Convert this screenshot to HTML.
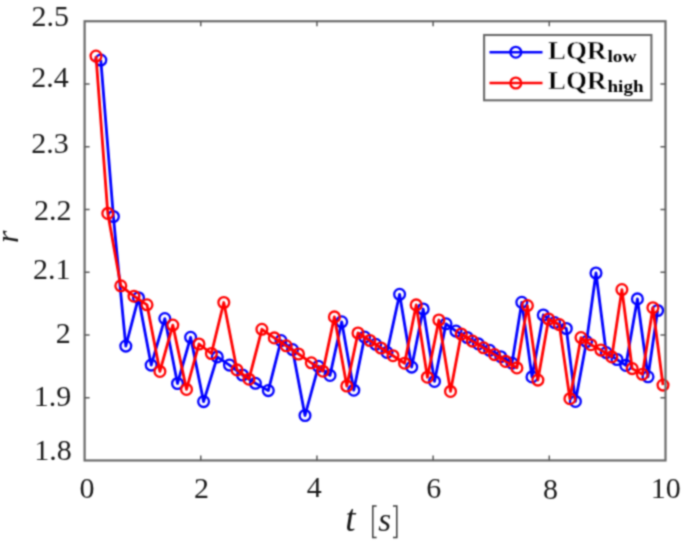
<!DOCTYPE html>
<html><head><meta charset="utf-8"><style>
html,body{margin:0;padding:0;background:#fff;}
body{width:685px;height:542px;overflow:hidden;}
svg{display:block;}
#w{width:685px;height:542px;}
.tl{font-family:"Liberation Serif",serif;font-size:30px;fill:#1a1a1a;}
.ax{font-family:"Liberation Serif",serif;font-style:italic;fill:#1a1a1a;}
.rm{font-family:"Liberation Serif",serif;fill:#1a1a1a;}
.lg{font-family:"Liberation Serif",serif;font-weight:bold;fill:#000;}
.lgc{stroke:#fff;stroke-width:0.5px;}
</style></head><body><div id="w">
<svg width="685" height="542" viewBox="0 0 685 542">
<defs><filter id="bl" filterUnits="userSpaceOnUse" x="0" y="0" width="685" height="542" color-interpolation-filters="sRGB"><feConvolveMatrix order="5" kernelMatrix="0.00023 0.00332 0.00809 0.00332 0.00023 0.00332 0.04785 0.11640 0.04785 0.00332 0.00809 0.11640 0.28313 0.11640 0.00809 0.00332 0.04785 0.11640 0.04785 0.00332 0.00023 0.00332 0.00809 0.00332 0.00023" edgeMode="duplicate" preserveAlpha="true"/></filter></defs>
<g filter="url(#bl)">
<rect x="0" y="0" width="685" height="542" fill="#fff"/>
<g class="tl">
<text x="71.80" y="460.1" text-anchor="end">1.8</text>
<text x="71.30" y="406.0" text-anchor="end">1.9</text>
<text x="70.75" y="343.2" text-anchor="end">2</text>
<text x="70.50" y="279.3" text-anchor="end">2.1</text>
<text x="71.60" y="220.0" text-anchor="end">2.2</text>
<text x="68.80" y="152.8" text-anchor="end">2.3</text>
<text x="68.70" y="87.2" text-anchor="end">2.4</text>
<text x="69.00" y="26.2" text-anchor="end">2.5</text>
<text x="87" y="497.7" text-anchor="middle">0</text>
<text x="201.4" y="497.7" text-anchor="middle">2</text>
<text x="314.3" y="497.3" text-anchor="middle">4</text>
<text x="433.7" y="497.7" text-anchor="middle">6</text>
<text x="550.4" y="499.0" text-anchor="middle">8</text>
<text x="665.7" y="497.6" text-anchor="middle">10</text>
</g>
<g>
<path d="M100.8,60.1 L113.4,216.5 L125.8,346.1 L138.5,297.7 L151.2,365.1 L164.8,318.6 L177.5,383.5 L190.6,337.3 L203.6,401.6 L217.3,356.9 L229.5,365.1 L242.5,375.0 L255.4,383.3 L268.3,390.6 L281.0,340.6 L292.5,349.6 L305.0,415.5 L318.4,366.3 L330.0,375.4 L341.7,321.8 L353.8,390.2 L364.6,337.1 L375.7,344.3 L387.0,352.4 L399.6,294.3 L411.7,367.1 L423.2,309.0 L434.5,381.4 L446.0,323.8 L456.0,331.1 L467.2,337.5 L478.4,343.9 L489.6,350.3 L500.8,356.7 L512.0,363.1 L521.8,302.3 L532.0,376.9 L543.3,315.0 L554.6,322.6 L566.3,328.5 L575.4,401.4 L586.5,341.6 L596.0,273.0 L606.2,352.6 L617.0,359.5 L625.8,365.4 L637.4,298.9 L648.0,376.8 L657.6,310.5" fill="none" stroke="#0000ff" stroke-width="2.8" stroke-linejoin="round"/>
<circle cx="100.8" cy="60.1" r="5.4" fill="none" stroke="#0000ff" stroke-width="2.3"/>
<circle cx="113.4" cy="216.5" r="5.4" fill="none" stroke="#0000ff" stroke-width="2.3"/>
<circle cx="125.8" cy="346.1" r="5.4" fill="none" stroke="#0000ff" stroke-width="2.3"/>
<circle cx="138.5" cy="297.7" r="5.4" fill="none" stroke="#0000ff" stroke-width="2.3"/>
<circle cx="151.2" cy="365.1" r="5.4" fill="none" stroke="#0000ff" stroke-width="2.3"/>
<circle cx="164.8" cy="318.6" r="5.4" fill="none" stroke="#0000ff" stroke-width="2.3"/>
<circle cx="177.5" cy="383.5" r="5.4" fill="none" stroke="#0000ff" stroke-width="2.3"/>
<circle cx="190.6" cy="337.3" r="5.4" fill="none" stroke="#0000ff" stroke-width="2.3"/>
<circle cx="203.6" cy="401.6" r="5.4" fill="none" stroke="#0000ff" stroke-width="2.3"/>
<circle cx="217.3" cy="356.9" r="5.4" fill="none" stroke="#0000ff" stroke-width="2.3"/>
<circle cx="229.5" cy="365.1" r="5.4" fill="none" stroke="#0000ff" stroke-width="2.3"/>
<circle cx="242.5" cy="375.0" r="5.4" fill="none" stroke="#0000ff" stroke-width="2.3"/>
<circle cx="255.4" cy="383.3" r="5.4" fill="none" stroke="#0000ff" stroke-width="2.3"/>
<circle cx="268.3" cy="390.6" r="5.4" fill="none" stroke="#0000ff" stroke-width="2.3"/>
<circle cx="281.0" cy="340.6" r="5.4" fill="none" stroke="#0000ff" stroke-width="2.3"/>
<circle cx="292.5" cy="349.6" r="5.4" fill="none" stroke="#0000ff" stroke-width="2.3"/>
<circle cx="305.0" cy="415.5" r="5.4" fill="none" stroke="#0000ff" stroke-width="2.3"/>
<circle cx="318.4" cy="366.3" r="5.4" fill="none" stroke="#0000ff" stroke-width="2.3"/>
<circle cx="330.0" cy="375.4" r="5.4" fill="none" stroke="#0000ff" stroke-width="2.3"/>
<circle cx="341.7" cy="321.8" r="5.4" fill="none" stroke="#0000ff" stroke-width="2.3"/>
<circle cx="353.8" cy="390.2" r="5.4" fill="none" stroke="#0000ff" stroke-width="2.3"/>
<circle cx="364.6" cy="337.1" r="5.4" fill="none" stroke="#0000ff" stroke-width="2.3"/>
<circle cx="375.7" cy="344.3" r="5.4" fill="none" stroke="#0000ff" stroke-width="2.3"/>
<circle cx="387.0" cy="352.4" r="5.4" fill="none" stroke="#0000ff" stroke-width="2.3"/>
<circle cx="399.6" cy="294.3" r="5.4" fill="none" stroke="#0000ff" stroke-width="2.3"/>
<circle cx="411.7" cy="367.1" r="5.4" fill="none" stroke="#0000ff" stroke-width="2.3"/>
<circle cx="423.2" cy="309.0" r="5.4" fill="none" stroke="#0000ff" stroke-width="2.3"/>
<circle cx="434.5" cy="381.4" r="5.4" fill="none" stroke="#0000ff" stroke-width="2.3"/>
<circle cx="446.0" cy="323.8" r="5.4" fill="none" stroke="#0000ff" stroke-width="2.3"/>
<circle cx="456.0" cy="331.1" r="5.4" fill="none" stroke="#0000ff" stroke-width="2.3"/>
<circle cx="467.2" cy="337.5" r="5.4" fill="none" stroke="#0000ff" stroke-width="2.3"/>
<circle cx="478.4" cy="343.9" r="5.4" fill="none" stroke="#0000ff" stroke-width="2.3"/>
<circle cx="489.6" cy="350.3" r="5.4" fill="none" stroke="#0000ff" stroke-width="2.3"/>
<circle cx="500.8" cy="356.7" r="5.4" fill="none" stroke="#0000ff" stroke-width="2.3"/>
<circle cx="512.0" cy="363.1" r="5.4" fill="none" stroke="#0000ff" stroke-width="2.3"/>
<circle cx="521.8" cy="302.3" r="5.4" fill="none" stroke="#0000ff" stroke-width="2.3"/>
<circle cx="532.0" cy="376.9" r="5.4" fill="none" stroke="#0000ff" stroke-width="2.3"/>
<circle cx="543.3" cy="315.0" r="5.4" fill="none" stroke="#0000ff" stroke-width="2.3"/>
<circle cx="554.6" cy="322.6" r="5.4" fill="none" stroke="#0000ff" stroke-width="2.3"/>
<circle cx="566.3" cy="328.5" r="5.4" fill="none" stroke="#0000ff" stroke-width="2.3"/>
<circle cx="575.4" cy="401.4" r="5.4" fill="none" stroke="#0000ff" stroke-width="2.3"/>
<circle cx="586.5" cy="341.6" r="5.4" fill="none" stroke="#0000ff" stroke-width="2.3"/>
<circle cx="596.0" cy="273.0" r="5.4" fill="none" stroke="#0000ff" stroke-width="2.3"/>
<circle cx="606.2" cy="352.6" r="5.4" fill="none" stroke="#0000ff" stroke-width="2.3"/>
<circle cx="617.0" cy="359.5" r="5.4" fill="none" stroke="#0000ff" stroke-width="2.3"/>
<circle cx="625.8" cy="365.4" r="5.4" fill="none" stroke="#0000ff" stroke-width="2.3"/>
<circle cx="637.4" cy="298.9" r="5.4" fill="none" stroke="#0000ff" stroke-width="2.3"/>
<circle cx="648.0" cy="376.8" r="5.4" fill="none" stroke="#0000ff" stroke-width="2.3"/>
<circle cx="657.6" cy="310.5" r="5.4" fill="none" stroke="#0000ff" stroke-width="2.3"/>

<path d="M96.0,56.1 L107.8,213.4 L120.8,285.8 L134.0,296.2 L147.0,304.8 L159.9,371.4 L172.8,325.1 L186.5,389.4 L199.0,344.0 L211.4,353.5 L223.8,302.5 L237.0,369.9 L249.0,379.2 L261.9,329.3 L274.3,337.9 L286.2,345.8 L298.5,354.0 L311.3,362.8 L322.9,371.2 L334.4,316.9 L346.8,386.0 L358.0,333.0 L369.9,340.5 L381.0,348.0 L393.0,355.7 L404.6,363.2 L416.2,304.9 L427.4,377.2 L438.9,320.0 L450.5,391.4 L461.3,334.0 L472.4,341.1 L483.5,347.8 L494.5,354.6 L505.6,361.4 L516.9,367.9 L527.4,305.6 L537.9,380.1 L548.6,319.0 L559.3,324.6 L569.9,398.7 L581.0,337.6 L590.9,344.7 L600.9,350.1 L611.8,356.9 L621.9,289.6 L632.2,368.6 L642.4,374.3 L652.9,307.7 L663.0,385.1" fill="none" stroke="#ff0000" stroke-width="2.8" stroke-linejoin="round"/>
<circle cx="96.0" cy="56.1" r="5.4" fill="none" stroke="#ff0000" stroke-width="2.3"/>
<circle cx="107.8" cy="213.4" r="5.4" fill="none" stroke="#ff0000" stroke-width="2.3"/>
<circle cx="120.8" cy="285.8" r="5.4" fill="none" stroke="#ff0000" stroke-width="2.3"/>
<circle cx="134.0" cy="296.2" r="5.4" fill="none" stroke="#ff0000" stroke-width="2.3"/>
<circle cx="147.0" cy="304.8" r="5.4" fill="none" stroke="#ff0000" stroke-width="2.3"/>
<circle cx="159.9" cy="371.4" r="5.4" fill="none" stroke="#ff0000" stroke-width="2.3"/>
<circle cx="172.8" cy="325.1" r="5.4" fill="none" stroke="#ff0000" stroke-width="2.3"/>
<circle cx="186.5" cy="389.4" r="5.4" fill="none" stroke="#ff0000" stroke-width="2.3"/>
<circle cx="199.0" cy="344.0" r="5.4" fill="none" stroke="#ff0000" stroke-width="2.3"/>
<circle cx="211.4" cy="353.5" r="5.4" fill="none" stroke="#ff0000" stroke-width="2.3"/>
<circle cx="223.8" cy="302.5" r="5.4" fill="none" stroke="#ff0000" stroke-width="2.3"/>
<circle cx="237.0" cy="369.9" r="5.4" fill="none" stroke="#ff0000" stroke-width="2.3"/>
<circle cx="249.0" cy="379.2" r="5.4" fill="none" stroke="#ff0000" stroke-width="2.3"/>
<circle cx="261.9" cy="329.3" r="5.4" fill="none" stroke="#ff0000" stroke-width="2.3"/>
<circle cx="274.3" cy="337.9" r="5.4" fill="none" stroke="#ff0000" stroke-width="2.3"/>
<circle cx="286.2" cy="345.8" r="5.4" fill="none" stroke="#ff0000" stroke-width="2.3"/>
<circle cx="298.5" cy="354.0" r="5.4" fill="none" stroke="#ff0000" stroke-width="2.3"/>
<circle cx="311.3" cy="362.8" r="5.4" fill="none" stroke="#ff0000" stroke-width="2.3"/>
<circle cx="322.9" cy="371.2" r="5.4" fill="none" stroke="#ff0000" stroke-width="2.3"/>
<circle cx="334.4" cy="316.9" r="5.4" fill="none" stroke="#ff0000" stroke-width="2.3"/>
<circle cx="346.8" cy="386.0" r="5.4" fill="none" stroke="#ff0000" stroke-width="2.3"/>
<circle cx="358.0" cy="333.0" r="5.4" fill="none" stroke="#ff0000" stroke-width="2.3"/>
<circle cx="369.9" cy="340.5" r="5.4" fill="none" stroke="#ff0000" stroke-width="2.3"/>
<circle cx="381.0" cy="348.0" r="5.4" fill="none" stroke="#ff0000" stroke-width="2.3"/>
<circle cx="393.0" cy="355.7" r="5.4" fill="none" stroke="#ff0000" stroke-width="2.3"/>
<circle cx="404.6" cy="363.2" r="5.4" fill="none" stroke="#ff0000" stroke-width="2.3"/>
<circle cx="416.2" cy="304.9" r="5.4" fill="none" stroke="#ff0000" stroke-width="2.3"/>
<circle cx="427.4" cy="377.2" r="5.4" fill="none" stroke="#ff0000" stroke-width="2.3"/>
<circle cx="438.9" cy="320.0" r="5.4" fill="none" stroke="#ff0000" stroke-width="2.3"/>
<circle cx="450.5" cy="391.4" r="5.4" fill="none" stroke="#ff0000" stroke-width="2.3"/>
<circle cx="461.3" cy="334.0" r="5.4" fill="none" stroke="#ff0000" stroke-width="2.3"/>
<circle cx="472.4" cy="341.1" r="5.4" fill="none" stroke="#ff0000" stroke-width="2.3"/>
<circle cx="483.5" cy="347.8" r="5.4" fill="none" stroke="#ff0000" stroke-width="2.3"/>
<circle cx="494.5" cy="354.6" r="5.4" fill="none" stroke="#ff0000" stroke-width="2.3"/>
<circle cx="505.6" cy="361.4" r="5.4" fill="none" stroke="#ff0000" stroke-width="2.3"/>
<circle cx="516.9" cy="367.9" r="5.4" fill="none" stroke="#ff0000" stroke-width="2.3"/>
<circle cx="527.4" cy="305.6" r="5.4" fill="none" stroke="#ff0000" stroke-width="2.3"/>
<circle cx="537.9" cy="380.1" r="5.4" fill="none" stroke="#ff0000" stroke-width="2.3"/>
<circle cx="548.6" cy="319.0" r="5.4" fill="none" stroke="#ff0000" stroke-width="2.3"/>
<circle cx="559.3" cy="324.6" r="5.4" fill="none" stroke="#ff0000" stroke-width="2.3"/>
<circle cx="569.9" cy="398.7" r="5.4" fill="none" stroke="#ff0000" stroke-width="2.3"/>
<circle cx="581.0" cy="337.6" r="5.4" fill="none" stroke="#ff0000" stroke-width="2.3"/>
<circle cx="590.9" cy="344.7" r="5.4" fill="none" stroke="#ff0000" stroke-width="2.3"/>
<circle cx="600.9" cy="350.1" r="5.4" fill="none" stroke="#ff0000" stroke-width="2.3"/>
<circle cx="611.8" cy="356.9" r="5.4" fill="none" stroke="#ff0000" stroke-width="2.3"/>
<circle cx="621.9" cy="289.6" r="5.4" fill="none" stroke="#ff0000" stroke-width="2.3"/>
<circle cx="632.2" cy="368.6" r="5.4" fill="none" stroke="#ff0000" stroke-width="2.3"/>
<circle cx="642.4" cy="374.3" r="5.4" fill="none" stroke="#ff0000" stroke-width="2.3"/>
<circle cx="652.9" cy="307.7" r="5.4" fill="none" stroke="#ff0000" stroke-width="2.3"/>
<circle cx="663.0" cy="385.1" r="5.4" fill="none" stroke="#ff0000" stroke-width="2.3"/>

</g>
<g stroke="#6a6a6a" stroke-width="2.2" fill="none">
<rect x="84.6" y="21.25" width="580.9" height="439.2"/>
</g>
<g stroke="#585858" stroke-width="1.5">
<line x1="84.6" y1="397.75" x2="89.6" y2="397.75"/>
<line x1="665.45" y1="397.75" x2="660.45" y2="397.75"/>
<line x1="84.6" y1="335.00" x2="89.6" y2="335.00"/>
<line x1="665.45" y1="335.00" x2="660.45" y2="335.00"/>
<line x1="84.6" y1="272.25" x2="89.6" y2="272.25"/>
<line x1="665.45" y1="272.25" x2="660.45" y2="272.25"/>
<line x1="84.6" y1="209.50" x2="89.6" y2="209.50"/>
<line x1="665.45" y1="209.50" x2="660.45" y2="209.50"/>
<line x1="84.6" y1="146.75" x2="89.6" y2="146.75"/>
<line x1="665.45" y1="146.75" x2="660.45" y2="146.75"/>
<line x1="84.6" y1="84.00" x2="89.6" y2="84.00"/>
<line x1="665.45" y1="84.00" x2="660.45" y2="84.00"/>
<line x1="200.77" y1="460.5" x2="200.77" y2="455.5"/>
<line x1="200.77" y1="21.25" x2="200.77" y2="26.25"/>
<line x1="316.94" y1="460.5" x2="316.94" y2="455.5"/>
<line x1="316.94" y1="21.25" x2="316.94" y2="26.25"/>
<line x1="433.11" y1="460.5" x2="433.11" y2="455.5"/>
<line x1="433.11" y1="21.25" x2="433.11" y2="26.25"/>
<line x1="549.28" y1="460.5" x2="549.28" y2="455.5"/>
<line x1="549.28" y1="21.25" x2="549.28" y2="26.25"/>
</g>
<!-- legend -->
<rect x="484.1" y="35.0" width="167.3" height="65.3" fill="#fff" stroke="#6a6a6a" stroke-width="2.1"/>
<line x1="489.5" y1="52.2" x2="542.5" y2="52.2" stroke="#0000ff" stroke-width="2.6"/>
<circle cx="515.8" cy="52.2" r="5.4" fill="none" stroke="#0000ff" stroke-width="2.3"/>
<line x1="489.5" y1="83" x2="542.5" y2="83" stroke="#ff0000" stroke-width="2.6"/>
<circle cx="515.8" cy="83" r="5.4" fill="none" stroke="#ff0000" stroke-width="2.3"/>
<text class="lg lgc" x="547.9" y="59.0" font-size="24.5" textLength="58.5" lengthAdjust="spacingAndGlyphs">LQR</text>
<text class="lg" x="607.5" y="62.1" font-size="16.8" textLength="29" lengthAdjust="spacingAndGlyphs">low</text>
<text class="lg lgc" x="547.9" y="88.5" font-size="24.5" textLength="58.5" lengthAdjust="spacingAndGlyphs">LQR</text>
<text class="lg" x="607.5" y="92" font-size="16.8" textLength="36" lengthAdjust="spacingAndGlyphs">high</text>
<!-- axis labels -->
<text class="ax" x="345.3" y="530.5" font-size="37">t</text>
<path d="M376.6,506 H372.8 V537.6 H376.6 M393,506 H396.8 V537.6 H393" fill="none" stroke="#3a3a3a" stroke-width="1.5"/>
<text class="ax" x="378.3" y="531" font-size="33">s</text>
<text class="ax" transform="translate(17.5,243) rotate(-90)" font-size="32">r</text>
</g>
</svg></div>
</body></html>
